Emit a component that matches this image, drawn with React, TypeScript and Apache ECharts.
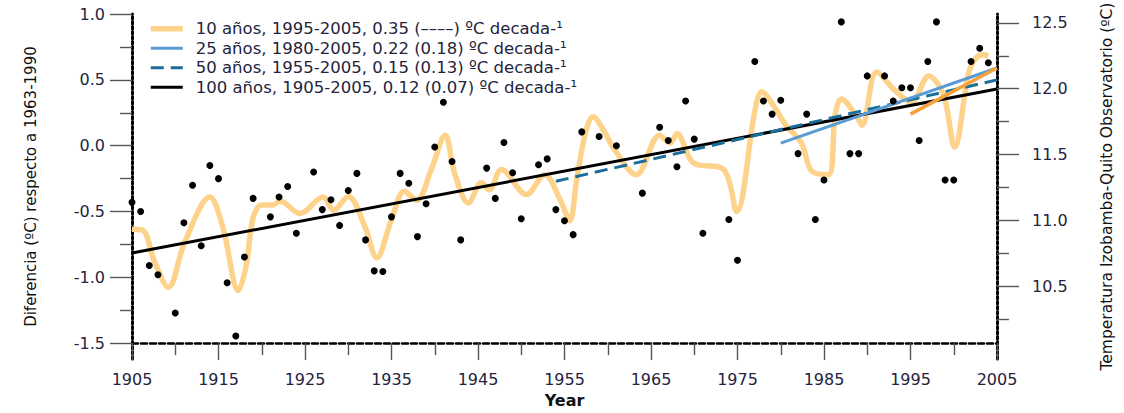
import React, { useEffect, useRef } from "react";
import * as echarts from "echarts";

// ---------- axis ranges & tick labels ----------
const YEAR_MIN = 1905;
const YEAR_MAX = 2005;
const xMajorTicks = [1905, 1915, 1925, 1935, 1945, 1955, 1965, 1975, 1985, 1995, 2005];
const xMinorTicks = [1910, 1920, 1930, 1940, 1950, 1960, 1970, 1980, 1990, 2000];
const LEFT_MIN = -1.62;
const LEFT_MAX = 1.0;
const leftMajorTicks = [1.0, 0.5, 0.0, -0.5, -1.0, -1.5];
const leftMinorTicks = [0.75, 0.25, -0.25, -0.75, -1.25];
const RIGHT_OFFSET = 11.567; // temperature = anomaly + offset
const rightMajorTicks = [10.5, 11.0, 11.5, 12.0, 12.5];
const rightMinorTicks = [10.25, 10.75, 11.25, 11.75, 12.25];

// ---------- annual anomalies (dots) ----------
const annualYears = [
  1905, 1906, 1907, 1908, 1910, 1911, 1912, 1913, 1914, 1915, 1916, 1917, 1918, 1919,
  1921, 1922, 1923, 1924, 1926, 1927, 1928, 1929, 1930, 1931, 1932, 1933, 1934, 1935,
  1936, 1937, 1938, 1939, 1940, 1941, 1942, 1943, 1946, 1947, 1948, 1949, 1950, 1952,
  1953, 1954, 1955, 1956, 1957, 1959, 1961, 1964, 1966, 1967, 1968, 1969, 1970, 1971,
  1974, 1975, 1977, 1978, 1979, 1980, 1982, 1983, 1984, 1985, 1987, 1988, 1989, 1990,
  1992, 1993, 1994, 1995, 1996, 1997, 1998, 1999, 2000, 2002, 2003, 2004,
];
const annualValues = [
  -0.43, -0.5, -0.91, -0.98, -1.27, -0.585, -0.3, -0.76, -0.15, -0.25, -1.04, -1.445, -0.845, -0.4,
  -0.54, -0.39, -0.31, -0.665, -0.2, -0.485, -0.41, -0.605, -0.34, -0.21, -0.715, -0.95, -0.955, -0.54,
  -0.21, -0.285, -0.69, -0.44, -0.01, 0.33, -0.12, -0.715, -0.17, -0.4, 0.025, -0.205, -0.555, -0.145,
  -0.1, -0.485, -0.57, -0.675, 0.105, 0.07, 0.0, -0.36, 0.14, 0.04, -0.16, 0.34, 0.05, -0.665,
  -0.56, -0.87, 0.64, 0.34, 0.24, 0.345, -0.06, 0.24, -0.56, -0.26, 0.94, -0.06, -0.06, 0.53,
  0.53, 0.34, 0.44, 0.44, 0.04, 0.64, 0.94, -0.26, -0.26, 0.64, 0.74, 0.63,
];

// ---------- decadal smoothed curve ----------
const smoothYears = [
  1905.0, 1906.2, 1907.6, 1909.2, 1911.1, 1914.0, 1915.5, 1917.3, 1918.2, 1919.0, 1920.0, 1921.3,
  1922.1, 1924.4, 1927.1, 1928.3, 1930.0, 1931.9, 1933.3, 1935.0, 1936.5, 1937.9, 1939.6, 1941.2,
  1942.3, 1943.9, 1945.4, 1946.3, 1947.7, 1950.6, 1952.7, 1954.5, 1955.6, 1956.4, 1957.4, 1958.3,
  1959.5, 1960.6, 1963.3, 1966.0, 1967.2, 1968.0, 1969.9, 1973.4, 1974.9, 1977.0, 1977.8, 1979.1,
  1980.6, 1982.4, 1983.6, 1985.5, 1986.3, 1987.0, 1988.8, 1989.4, 1991.1, 1993.2, 1995.1, 1997.1,
  1998.8, 2000.1, 2001.7, 2002.5, 2003.4, 2004.0,
];
const smoothValues = [
  -0.635, -0.64, -0.88, -1.075, -0.73, -0.39, -0.62, -1.1, -0.91, -0.545, -0.45, -0.45,
  -0.42, -0.515, -0.39, -0.49, -0.385, -0.61, -0.85, -0.56, -0.345, -0.415, -0.18, 0.08,
  -0.21, -0.435, -0.28, -0.335, -0.18, -0.37, -0.22, -0.41, -0.57, -0.26, 0.09, 0.22,
  0.12, -0.01, -0.22, 0.08, 0.02, 0.09, -0.13, -0.18, -0.5, 0.26, 0.41, 0.31,
  0.155, 0.02, -0.195, -0.22, 0.24, 0.355, 0.22, 0.155, 0.56, 0.42, 0.33, 0.53,
  0.39, -0.01, 0.545, 0.66, 0.69, 0.68,
];

// ---------- linear trends (end points) ----------
const trend100Years = [1905, 2005];
const trend100Values = [-0.815, 0.43];
const trend50Years = [1954, 2005];
const trend50Values = [-0.27, 0.5];
const trend25Years = [1980, 2005];
const trend25Values = [0.02, 0.59];
const trend10Years = [1995, 2005];
const trend10Values = [0.24, 0.59];

const legendLabels = [
  "10 años, 1995-2005, 0.35 (––––) ºC decada-¹",
  "25 años, 1980-2005, 0.22 (0.18) ºC decada-¹",
  "50 años, 1955-2005, 0.15 (0.13) ºC decada-¹",
  "100 años, 1905-2005, 0.12 (0.07) ºC decada-¹",
];

const FONT = "DejaVu Sans";
const TEXT = "#24243e";

const pairs = (xs: number[], ys: number[]) => xs.map((x, i) => [x, ys[i]]);

function buildOption(): any {
  const xBase = {
    type: "value",
    min: YEAR_MIN,
    max: YEAR_MAX,
    position: "bottom",
    offset: -16,
    splitLine: { show: false },
  };
  const yBase = { type: "value", splitLine: { show: false } };
  const tickStyle = { color: "#555", width: 1.4 };
  const dotted = { color: "#000", width: 3, type: [2.6, 2.4] };
  const hiddenSymbol = { opacity: 0 };
  return {
    animation: false,
    grid: { left: 132, right: 127, top: 14, bottom: 50 },
    legend: {
      orient: "vertical",
      left: 148,
      top: 19,
      padding: 0,
      itemWidth: 32,
      itemHeight: 12,
      itemGap: 0,
      selectedMode: false,
      itemStyle: hiddenSymbol,
      textStyle: { fontFamily: FONT, fontSize: 16.5, color: TEXT, lineHeight: 19.5, padding: [0, 0, 0, 8] },
      data: [
        { name: legendLabels[0], lineStyle: { width: 5.5 }, itemStyle: hiddenSymbol },
        { name: legendLabels[1], lineStyle: { width: 3 }, itemStyle: hiddenSymbol },
        { name: legendLabels[2], lineStyle: { width: 3 }, itemStyle: hiddenSymbol },
        { name: legendLabels[3], lineStyle: { width: 3 }, itemStyle: hiddenSymbol },
      ],
    },
    xAxis: [
      {
        ...xBase,
        axisLine: { show: true, onZero: false, lineStyle: { color: "#000", width: 2.5, type: [6, 3] } },
        axisTick: { show: true, customValues: xMajorTicks, length: 17, lineStyle: tickStyle },
        axisLabel: {
          customValues: xMajorTicks,
          margin: 28,
          fontFamily: FONT,
          fontSize: 16,
          color: TEXT,
          formatter: (v: number) => String(Math.round(v)),
        },
        name: "Year",
        nameLocation: "middle",
        nameGap: 44,
        nameTextStyle: { fontFamily: FONT, fontSize: 16, fontWeight: "bold", color: "#111" },
      },
      {
        ...xBase,
        axisLine: { show: false, onZero: false },
        axisTick: { show: true, customValues: xMinorTicks, length: 12, lineStyle: tickStyle },
        axisLabel: { show: false },
      },
    ],
    yAxis: [
      {
        ...yBase,
        position: "left",
        min: LEFT_MIN,
        max: LEFT_MAX,
        axisLine: { show: true, onZero: false, lineStyle: dotted },
        axisTick: { show: true, customValues: leftMajorTicks, length: 22, lineStyle: tickStyle },
        axisLabel: {
          customValues: leftMajorTicks,
          margin: 27,
          fontFamily: FONT,
          fontSize: 16,
          color: TEXT,
          formatter: (v: number) => v.toFixed(1),
        },
        name: "Diferencia (ºC) respecto a 1963-1990",
        nameLocation: "middle",
        nameRotate: 90,
        nameGap: 94,
        nameTextStyle: { fontFamily: FONT, fontSize: 15, color: "#111" },
      },
      {
        ...yBase,
        position: "left",
        min: LEFT_MIN,
        max: LEFT_MAX,
        axisLine: { show: false, onZero: false },
        axisTick: { show: true, customValues: leftMinorTicks, length: 12, lineStyle: tickStyle },
        axisLabel: { show: false },
      },
      {
        ...yBase,
        position: "right",
        min: LEFT_MIN + RIGHT_OFFSET,
        max: LEFT_MAX + RIGHT_OFFSET,
        axisLine: { show: true, onZero: false, lineStyle: dotted },
        axisTick: { show: true, customValues: rightMajorTicks, length: 22, lineStyle: tickStyle },
        axisLabel: {
          customValues: rightMajorTicks,
          margin: 35,
          fontFamily: FONT,
          fontSize: 16,
          color: TEXT,
          formatter: (v: number) => v.toFixed(1),
        },
        name: "Temperatura Izobamba-Quito Observatorio (ºC)",
        nameLocation: "middle",
        nameRotate: 90,
        nameGap: 102,
        nameTextStyle: { fontFamily: FONT, fontSize: 15.5, color: "#111" },
      },
      {
        ...yBase,
        position: "right",
        min: LEFT_MIN + RIGHT_OFFSET,
        max: LEFT_MAX + RIGHT_OFFSET,
        axisLine: { show: false, onZero: false },
        axisTick: { show: true, customValues: rightMinorTicks, length: 12, lineStyle: tickStyle },
        axisLabel: { show: false },
      },
    ],
    series: [
      {
        name: legendLabels[0],
        type: "line",
        smooth: 0.35,
        symbol: "none",
        data: pairs(smoothYears, smoothValues),
        lineStyle: { color: "#FDD38C", width: 5.5 },
        itemStyle: { color: "#FDD38C" },
        z: 1,
      },
      {
        name: legendLabels[3],
        type: "line",
        symbol: "none",
        data: pairs(trend100Years, trend100Values),
        lineStyle: { color: "#000", width: 3 },
        itemStyle: { color: "#000" },
        z: 2,
      },
      {
        name: legendLabels[2],
        type: "line",
        symbol: "none",
        data: pairs(trend50Years, trend50Values),
        lineStyle: { color: "#1A6E99", width: 3, type: [13, 7] },
        itemStyle: { color: "#1A6E99" },
        z: 3,
      },
      {
        name: legendLabels[1],
        type: "line",
        symbol: "none",
        data: pairs(trend25Years, trend25Values),
        lineStyle: { color: "#5B9BD5", width: 3 },
        itemStyle: { color: "#5B9BD5" },
        z: 4,
      },
      {
        name: "trend10",
        type: "line",
        symbol: "none",
        data: pairs(trend10Years, trend10Values),
        lineStyle: { color: "#F5A23A", width: 3.5 },
        itemStyle: { color: "#F5A23A" },
        z: 5,
      },
      {
        name: "anual",
        type: "scatter",
        symbolSize: 7,
        data: pairs(annualYears, annualValues),
        itemStyle: { color: "#000", opacity: 1 },
        z: 6,
      },
    ],
  };
}

export default function App() {
  const ref = useRef<HTMLDivElement>(null);
  useEffect(() => {
    if (!ref.current) return;
    const chart = echarts.init(ref.current, null, { renderer: "svg" });
    chart.setOption(buildOption());
    return () => chart.dispose();
  }, []);
  return (
    <div
      ref={ref}
      style={{ position: "fixed", left: 0, top: 0, width: 1124, height: 413, background: "#fff" }}
    />
  );
}
